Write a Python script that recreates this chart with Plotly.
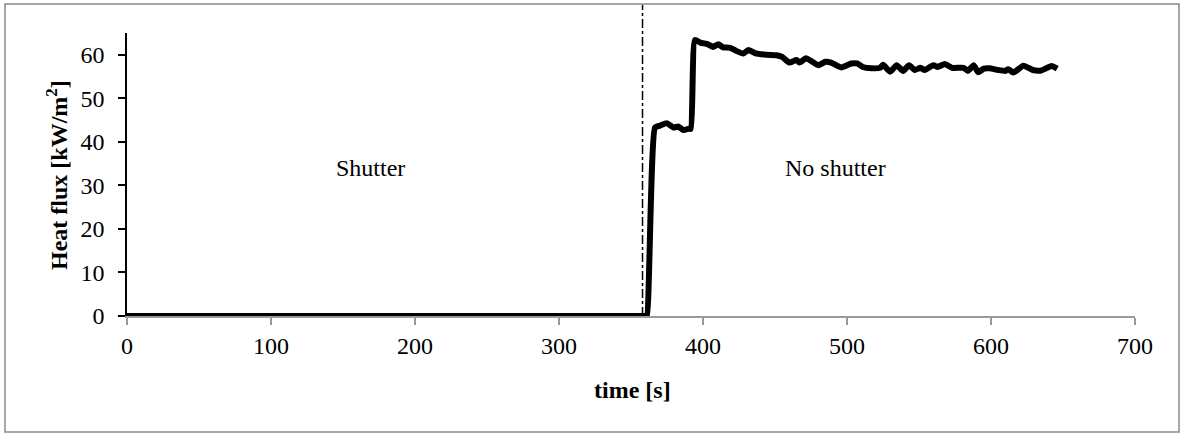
import plotly.graph_objects as go

# ---- data ----
time_s = [0, 360, 361, 366.7, 370, 374.8, 379.4, 383, 386.5, 390, 391.5, 394.4,
          398, 403.5, 407, 410.6, 414, 419, 423, 428, 431.5, 436, 444, 451, 455,
          460, 465, 467, 471.5, 475.5, 480, 485, 489, 496, 503, 507, 511, 517,
          523, 525, 530, 534.5, 539, 543, 547, 551, 554, 560, 563, 568, 573, 581,
          584, 588, 591, 595, 599, 605, 610, 612, 615.5, 622.5, 629, 635, 642, 646]
heat_flux = [0, 0, 0, 43.3, 43.7, 44.3, 43.3, 43.5, 42.7, 43.0, 43.0, 63.4,
             62.8, 62.4, 61.8, 62.4, 61.7, 61.6, 60.9, 60.3, 61.1, 60.4, 60.0, 59.9, 59.5,
             58.2, 58.8, 58.2, 59.2, 58.5, 57.6, 58.4, 58.2, 57.1, 58.0, 58.0, 57.2, 56.9,
             57.0, 57.7, 56.1, 57.6, 56.3, 57.6, 56.5, 57.0, 56.5, 57.6, 57.2, 57.9, 57.0, 57.0,
             56.3, 57.6, 56.0, 56.8, 56.9, 56.5, 56.3, 56.7, 55.9, 57.5, 56.5, 56.4, 57.4, 56.8]
shutter_open_time = 358
x_ticks = [0, 100, 200, 300, 400, 500, 600, 700]
y_ticks = [0, 10, 20, 30, 40, 50, 60]
region_labels = ["Shutter", "No shutter"]
region_label_x = [169, 492]
region_label_y = [34, 34]

FONT = "Liberation Serif, Times New Roman, serif"
W, H = 1182, 435
L, R, T, B = 127, 47, 33, 119
pw, ph = W - L - R, H - T - B

def px2paper_x(px):
    return (px - L) / pw

def px2paper_y(py):
    return (H - B - py) / ph

fig = go.Figure()
fig.add_trace(go.Scatter(x=time_s, y=heat_flux, mode="lines",
                         line=dict(color="black", width=6, shape="spline", smoothing=0.5),
                         showlegend=False, hoverinfo="x+y"))

# dash-dot separator line
fig.add_shape(type="line", xref="x", yref="paper",
              x0=shutter_open_time, x1=shutter_open_time,
              y0=0, y1=px2paper_y(5),
              line=dict(color="black", width=1.5, dash="dashdot"))

# outer chart border
fig.add_shape(type="rect", xref="paper", yref="paper",
              x0=px2paper_x(5), x1=px2paper_x(1179),
              y0=px2paper_y(432), y1=px2paper_y(4),
              line=dict(color="#8a8a8a", width=1.5), fillcolor="rgba(0,0,0,0)",
              layer="below")

for txt, xx, yy in zip(region_labels, region_label_x, region_label_y):
    fig.add_annotation(x=xx, y=yy, xref="x", yref="y", text=txt, showarrow=False,
                       xanchor="center", yanchor="middle",
                       font=dict(family=FONT, size=24, color="black"))

fig.add_annotation(text="<b>Heat flux [kW/m<sup>2</sup>]</b>", textangle=-90,
                   xref="paper", yref="paper", x=px2paper_x(57), y=px2paper_y(175),
                   xanchor="center", yanchor="middle",
                   showarrow=False, font=dict(family=FONT, size=24, color="black"))
fig.add_annotation(text="<b>time [s]</b>", xref="paper", yref="paper",
                   x=px2paper_x(632), y=px2paper_y(390),
                   xanchor="center", yanchor="middle", showarrow=False,
                   font=dict(family=FONT, size=24, color="black"))

fig.update_xaxes(range=[0, 700], tickvals=x_ticks, showgrid=False, zeroline=False,
                 showline=True, linecolor="#9a9a9a", linewidth=1.5,
                 ticks="outside", ticklen=7, tickcolor="#9a9a9a", tickwidth=1.5,
                 ticklabelstandoff=0,
                 tickfont=dict(family=FONT, size=24, color="black"))
fig.update_yaxes(range=[0, 65], tickvals=y_ticks, showgrid=False, zeroline=False,
                 showline=True, linecolor="black", linewidth=1.5,
                 ticks="outside", ticklen=7, tickcolor="black", tickwidth=1.5,
                 ticklabelstandoff=9,
                 tickfont=dict(family=FONT, size=24, color="black"))

fig.update_layout(width=W, height=H, margin=dict(l=L, r=R, t=T, b=B, autoexpand=False),
                  paper_bgcolor="white", plot_bgcolor="white")

fig.write_html("out.html")
